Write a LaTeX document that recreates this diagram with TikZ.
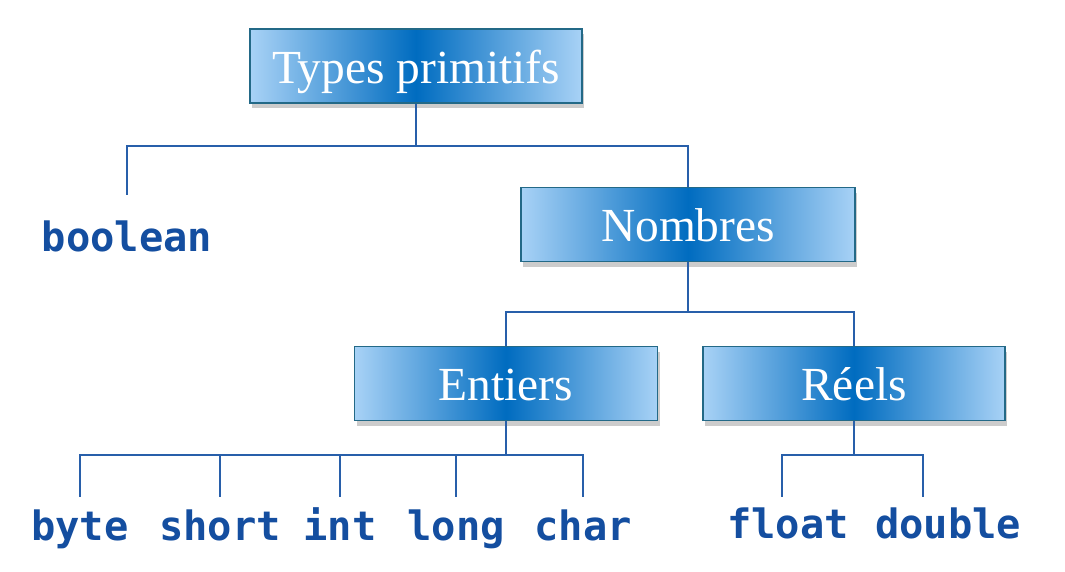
\documentclass[tikz,border=0pt]{standalone}
\usepackage{fontspec}
\setmainfont{Liberation Serif}
\newfontfamily\codefont{DejaVu Sans Mono}
\usetikzlibrary{shadows}
\definecolor{boxdark}{RGB}{0,108,192}
\definecolor{boxlight}{RGB}{168,210,246}
\definecolor{boxedge}{RGB}{35,105,135}
\definecolor{linkblue}{RGB}{40,95,170}
\definecolor{typeblue}{RGB}{20,78,160}

\begin{document}
\begin{tikzpicture}[lnk/.style={draw=linkblue, line width=1.1pt}]
\tikzstyle{cat}=[draw=boxedge, line width=0.8pt, left color=boxlight, right color=boxlight, middle color=boxdark, text=white, font=\fontsize{27}{30}\selectfont, text height=0.74cm, text depth=0.06cm, minimum height=1.48cm, drop shadow={shadow xshift=0.04cm, shadow yshift=-0.1cm, opacity=0.4}]
\tikzstyle{typ}=[anchor=base, text=typeblue, inner sep=0pt, font=\codefont\bfseries\fontsize{23}{25}\selectfont]
\fill[white] (0,0) rectangle (21.3,-11.42);
\useasboundingbox (0,0) rectangle (21.3,-11.42);
% category boxes
\node[cat, minimum width=6.64cm] (tp) at (8.32,-1.32) {Types primitifs};
\node[cat, minimum width=6.68cm] (nb) at (13.76,-4.49) {Nombres};
\node[cat, minimum width=6.06cm] (en) at (10.12,-7.67) {Entiers};
\node[cat, minimum width=6.04cm] (re) at (17.08,-7.67) {Réels};
% leaves
\node[typ] (boolean) at (2.54,-5.03) {boolean};
\node[typ] (float) at (15.76,-10.76) {float};
\node[typ] (double) at (18.96,-10.76) {double};
% top level
\draw[lnk] (tp.south) -- ++(0,-0.84) -| ([yshift=1.13cm]boolean.base);
\draw[lnk] (tp.south) ++(0,-0.84) -| (nb.north);
% numbers
\draw[lnk] (nb.south) -- ++(0,-1.0) -| (en.north);
\draw[lnk] (nb.south) ++(0,-1.0) -| (re.north);
% integer types
\draw[lnk] (en.south) -- ++(0,-0.68);
\foreach \n/\x in {byte/1.6,short/4.4,int/6.8,long/9.12,char/11.66}{
  \node[typ] (\n) at (\x,-10.8) {\n};
  \draw[lnk] (en.south) ++(0,-0.68) -| ([yshift=0.86cm]\n.base);
}
% real types
\draw[lnk] (re.south) -- ++(0,-0.68) -| ([xshift=-0.12cm,yshift=0.82cm]float.base);
\draw[lnk] (re.south) ++(0,-0.68) -| ([xshift=-0.5cm,yshift=0.82cm]double.base);
\end{tikzpicture}
\end{document}
